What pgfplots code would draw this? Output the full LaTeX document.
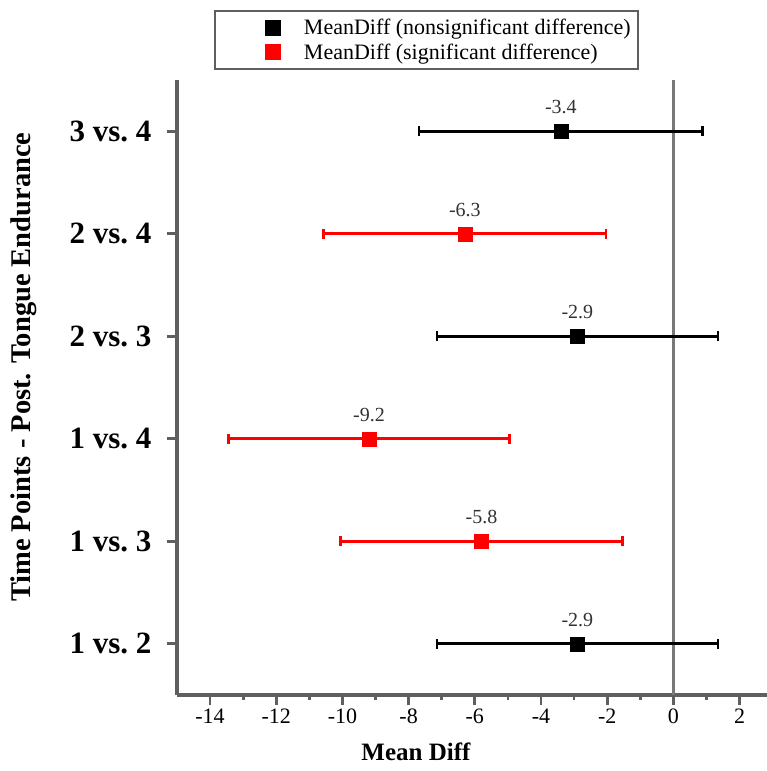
\documentclass[border=0pt]{standalone}
\usepackage{fontspec}
\setmainfont{Liberation Serif}
\usepackage{pgfplots}
\usepackage{pgfplotstable}
\pgfplotsset{compat=1.18}
\definecolor{axisgray}{RGB}{95,95,95}
\definecolor{zerogray}{RGB}{120,120,120}
\definecolor{sigred}{RGB}{255,0,0}
\definecolor{labgray}{RGB}{50,50,50}

% mean difference, row position, half width of the interval, label
\pgfplotstableread{
x y e lab
-3.4 6 4.28 -3.4
-2.9 4 4.25 -2.9
-2.9 1 4.25 -2.9
}\nonsig
\pgfplotstableread{
x y e lab
-6.3 5 4.27 -6.3
-9.2 3 4.25 -9.2
-5.8 2 4.26 -5.8
}\sig

\begin{document}
\begin{tikzpicture}
\begin{axis}[
    scale only axis,
    width=590pt, height=615pt,
    xmin=-15, xmax=2.83,
    ymin=0.5, ymax=6.5,
    axis lines=left,
    axis line style={-, axisgray, line width=3.5pt},
    xtick={-14,-12,...,2},
    minor xtick={-13,-11,...,1},
    ytick={1,...,6},
    yticklabels={1 vs.\ 2, 1 vs.\ 3, 1 vs.\ 4, 2 vs.\ 3, 2 vs.\ 4, 3 vs.\ 4},
    tick align=outside,
    major tick length=10pt,
    minor tick length=5pt,
    every tick/.style={axisgray, line width=2.8pt},
    /pgf/number format/assume math mode=true,
    xticklabel style={font=\fontsize{22}{26}\selectfont},
    yticklabel style={font=\fontsize{31}{34}\selectfont\bfseries, xshift=-12pt},
    xlabel={Mean Diff},
    ylabel={Time Points - Post. Tongue Endurance},
    xlabel style={font=\fontsize{25}{30}\selectfont\bfseries,
        at={(axis description cs:0.405,-0.093)}, anchor=center},
    ylabel style={font=\fontsize{28.5}{32}\selectfont\bfseries,
        at={(axis description cs:-0.26,0.533)}, anchor=center},
    legend style={at={(axis description cs:0.0627,1.1138)}, anchor=north west,
        draw=axisgray, line width=2pt, font=\fontsize{22}{26}\selectfont,
        row sep=4pt, inner ysep=6pt, inner xsep=5pt, cells={anchor=west}},
    legend image code/.code={
        \path (0pt,0pt) (80pt,0pt);
        \draw[#1] plot coordinates {(52pt,0pt)};
    },
    clip=false,
]
\addplot[zerogray, line width=2.5pt, forget plot] coordinates {(0,0.5) (0,6.5)};

\addplot[black, only marks, mark=square*, mark size=7pt,
    point meta=explicit symbolic, nodes near coords,
    every node near coord/.append style={anchor=center, yshift=24pt,
        font=\fontsize{20}{24}\selectfont, text=labgray},
    error bars/.cd, x dir=both, x explicit,
    error bar style={line width=3pt, black},
    error mark options={rotate=90, line width=2.5pt, mark size=5pt, black}]
    table[x=x, y=y, x error=e, meta=lab] {\nonsig};

\addplot[sigred, only marks, mark=square*, mark size=7pt,
    point meta=explicit symbolic, nodes near coords,
    every node near coord/.append style={anchor=center, yshift=24pt,
        font=\fontsize{20}{24}\selectfont, text=labgray},
    error bars/.cd, x dir=both, x explicit,
    error bar style={line width=3pt, sigred},
    error mark options={rotate=90, line width=2.5pt, mark size=5pt, sigred}]
    table[x=x, y=y, x error=e, meta=lab] {\sig};

\legend{MeanDiff (nonsignificant difference), MeanDiff (significant difference)}
\coordinate (o) at (rel axis cs:0,0);
\end{axis}
\pgfresetboundingbox
\path (o) ++(-177pt,-76pt) rectangle ++(767pt,771pt);
\end{tikzpicture}
\end{document}
